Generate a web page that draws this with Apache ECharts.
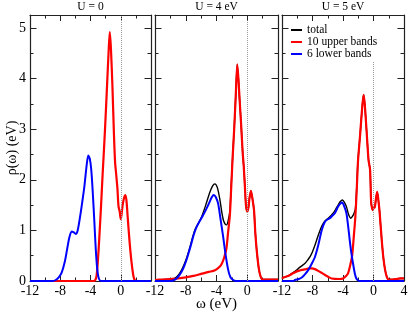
<!DOCTYPE html>
<html>
<head>
<meta charset="utf-8">
<script src="https://cdn.jsdelivr.net/npm/echarts@6/dist/echarts.min.js"></script>
<style>
html,body{margin:0;padding:0;background:#fff}
#wrap{position:relative;width:409px;height:313px}
.p{position:absolute;left:0;top:0;width:409px;height:313px}
</style>
</head>
<body>
<div id="wrap"><div class="p" id="p0"></div><div class="p" id="p1"></div><div class="p" id="p2"></div></div>
<script>
// ---------- data (x in eV, y = rho) ----------
const panelTitles = ['U = 0', 'U = 4 eV', 'U = 5 eV'];
const legendNames = ['total', '10 upper bands', '6 lower bands'];
const xLabel = 'ω (eV)';
const yLabel = 'ρ(ω) (eV)';

const u0Upper = [[-12,0],[-3.6,0],[-3.4,0.01],[-3.2,0.1],[-3.0,0.45],[-2.8,0.95],[-2.6,1.5],[-2.4,2.1],[-2.2,2.65],[-2.0,3.25],[-1.8,3.9],[-1.6,4.55],[-1.45,4.92],[-1.3,4.6],[-1.1,3.85],[-0.9,2.9],[-0.75,2.35],[-0.6,2.1],[-0.45,1.85],[-0.3,1.48],[-0.15,1.38],[0.0,1.22],[0.1,1.3],[0.25,1.5],[0.45,1.65],[0.6,1.7],[0.75,1.6],[0.9,1.3],[1.1,0.9],[1.3,0.55],[1.5,0.28],[1.7,0.08],[1.9,0.01],[2.2,0],[4,0]];
const u0Lower = [[-12,0],[-9.0,0],[-8.6,0.02],[-8.2,0.07],[-7.8,0.17],[-7.4,0.38],[-7.1,0.62],[-6.8,0.86],[-6.5,0.98],[-6.2,0.96],[-5.95,0.93],[-5.7,1.0],[-5.4,1.25],[-5.1,1.55],[-4.8,1.88],[-4.5,2.3],[-4.3,2.48],[-4.1,2.42],[-3.9,2.2],[-3.7,1.75],[-3.5,1.2],[-3.3,0.62],[-3.1,0.22],[-2.9,0.05],[-2.6,0],[4,0]];

const u4Total = [[-12,0.02],[-10,0.04],[-9.5,0.05],[-9.2,0.08],[-8.8,0.15],[-8.37,0.27],[-7.9,0.45],[-7.49,0.65],[-7.15,0.84],[-6.84,1.0],[-6.4,1.13],[-5.96,1.26],[-5.4,1.5],[-4.88,1.75],[-4.5,1.88],[-4.22,1.92],[-3.9,1.85],[-3.57,1.62],[-3.3,1.35],[-3.1,1.2],[-2.85,1.12],[-2.69,1.11],[-2.5,1.18],[-2.26,1.38],[-2.1,1.85],[-1.9,2.45],[-1.7,3.0],[-1.5,3.65],[-1.3,4.28],[-1.15,4.0],[-1.0,3.6],[-0.8,3.1],[-0.6,2.55],[-0.45,2.25],[-0.3,1.85],[-0.17,1.5],[0.0,1.37],[0.15,1.45],[0.3,1.65],[0.48,1.78],[0.65,1.65],[0.88,1.4],[1.05,0.95],[1.23,0.61],[1.5,0.25],[1.75,0.08],[2.0,0.03],[3,0.03],[4,0.03]];
const u4Upper = [[-12,0.02],[-11,0.03],[-10,0.04],[-9,0.05],[-8,0.07],[-7,0.1],[-6,0.14],[-5,0.18],[-4.4,0.2],[-4,0.23],[-3.6,0.28],[-3.35,0.33],[-3.1,0.42],[-2.9,0.52],[-2.7,0.65],[-2.5,0.95],[-2.26,1.3],[-2.1,1.8],[-1.9,2.45],[-1.7,3.0],[-1.5,3.65],[-1.3,4.28],[-1.15,4.0],[-1.0,3.6],[-0.8,3.1],[-0.6,2.55],[-0.45,2.25],[-0.3,1.85],[-0.17,1.5],[0.0,1.37],[0.15,1.45],[0.3,1.65],[0.48,1.78],[0.65,1.65],[0.88,1.4],[1.05,0.95],[1.23,0.61],[1.5,0.25],[1.75,0.08],[2.0,0.03],[3,0.03],[4,0.03]];
const u4Lower = [[-12,0],[-10,0],[-9.67,0.01],[-9.2,0.05],[-8.8,0.12],[-8.35,0.24],[-7.92,0.41],[-7.6,0.57],[-7.27,0.74],[-6.95,0.92],[-6.61,1.06],[-6.2,1.18],[-5.75,1.3],[-5.3,1.43],[-4.88,1.57],[-4.6,1.66],[-4.35,1.7],[-4.1,1.66],[-3.79,1.53],[-3.5,1.25],[-3.14,0.88],[-2.8,0.5],[-2.48,0.22],[-2.2,0.08],[-1.83,0.02],[-1.5,0],[4,0]];

const u5Total = [[-12,0.05],[-11.8,0.07],[-11.2,0.1],[-10.7,0.15],[-10.2,0.2],[-9.84,0.25],[-9.4,0.3],[-8.97,0.35],[-8.6,0.42],[-8.32,0.48],[-8.0,0.58],[-7.67,0.71],[-7.3,0.88],[-7.02,1.0],[-6.7,1.11],[-6.46,1.17],[-6.2,1.21],[-5.94,1.24],[-5.6,1.29],[-5.29,1.34],[-4.95,1.42],[-4.64,1.5],[-4.35,1.57],[-4.07,1.6],[-3.8,1.55],[-3.55,1.47],[-3.3,1.33],[-3.1,1.26],[-2.99,1.24],[-2.8,1.27],[-2.6,1.32],[-2.38,1.42],[-2.2,1.85],[-2.04,2.37],[-1.75,2.9],[-1.5,3.4],[-1.3,3.68],[-1.15,3.5],[-0.9,2.95],[-0.65,2.39],[-0.45,2.2],[-0.3,1.54],[-0.09,1.4],[0.04,1.47],[0.15,1.45],[0.3,1.6],[0.48,1.76],[0.62,1.62],[0.78,1.4],[1.08,0.81],[1.3,0.45],[1.52,0.22],[1.75,0.08],[1.95,0.03],[2.5,0.03],[3.0,0.04],[3.5,0.05],[4,0.05]];
const u5Upper = [[-12,0.05],[-11.8,0.07],[-11.2,0.1],[-10.7,0.14],[-10.2,0.18],[-9.84,0.2],[-9.4,0.22],[-8.97,0.23],[-8.5,0.25],[-8.1,0.25],[-7.6,0.23],[-7.24,0.2],[-6.8,0.16],[-6.37,0.12],[-5.9,0.08],[-5.5,0.05],[-4.5,0.04],[-3.99,0.05],[-3.6,0.1],[-3.34,0.15],[-3.1,0.28],[-2.82,0.48],[-2.6,0.85],[-2.38,1.27],[-2.2,1.8],[-2.04,2.35],[-1.75,2.9],[-1.5,3.4],[-1.3,3.68],[-1.15,3.5],[-0.9,2.95],[-0.65,2.39],[-0.45,2.2],[-0.3,1.54],[-0.09,1.4],[0.04,1.47],[0.15,1.45],[0.3,1.6],[0.48,1.76],[0.62,1.62],[0.78,1.4],[1.08,0.81],[1.3,0.45],[1.52,0.22],[1.75,0.08],[1.95,0.03],[2.5,0.03],[3.0,0.04],[3.5,0.05],[4,0.05]];
const u5Lower = [[-12,0],[-10.5,0],[-10.3,0.02],[-9.8,0.04],[-9.4,0.07],[-9.0,0.13],[-8.54,0.22],[-8.1,0.34],[-7.67,0.48],[-7.24,0.71],[-6.8,1.0],[-6.37,1.17],[-6.0,1.22],[-5.72,1.24],[-5.4,1.29],[-5.07,1.34],[-4.64,1.47],[-4.35,1.53],[-4.12,1.55],[-3.85,1.48],[-3.55,1.34],[-3.3,1.05],[-3.12,0.81],[-2.9,0.55],[-2.69,0.35],[-2.45,0.15],[-2.25,0.05],[-2.0,0.01],[-1.8,0],[4,0]];

const panelData = [
  {total: null,    upper: u0Upper, lower: u0Lower},
  {total: u4Total, upper: u4Upper, lower: u4Lower},
  {total: u5Total, upper: u5Upper, lower: u5Lower}
];

// ---------- layout / style ----------
const FONT = 'Liberation Serif';
const AX = '#222';
const layout = [
  {left: 30, width: 121, zeroTop: 5.25},
  {left: 155, width: 123, zeroTop: 5.15},
  {left: 282, width: 122, zeroTop: 4.33}
];
const GTOP = 15, GH = 266, YMAX = 5.257;
const colors = {total: '#000000', upper: '#ff0000', lower: '#0000ff'};

function mkX(pos, extra) {
  return Object.assign({
    type: 'value', min: -12, max: 4, interval: 4, position: pos,
    axisLine: {show: true, onZero: false, lineStyle: {color: AX, width: 1.2}},
    axisTick: {show: true, inside: true, length: 6, lineStyle: {color: AX, width: 1}},
    minorTick: {show: true, splitNumber: 2, length: 3.5, lineStyle: {color: AX, width: 1}},
    splitLine: {show: false}, minorSplitLine: {show: false},
    axisLabel: {show: false}
  }, extra || {});
}
function mkY(pos, iv, extra) {
  return Object.assign({
    type: 'value', min: 0, max: YMAX, interval: iv, position: pos,
    axisLine: {show: iv === 1, onZero: false, lineStyle: {color: AX, width: 1.2}},
    axisTick: {show: true, inside: true, length: iv === 1 ? 6.5 : 3.5, lineStyle: {color: AX, width: 1}},
    axisLabel: {show: false},
    splitLine: {show: false}, minorSplitLine: {show: false}
  }, extra || {});
}

layout.forEach((p, i) => {
  const xExtra = {
    axisLabel: {show: true, fontFamily: FONT, fontSize: 14, color: '#000', margin: 3, showMaxLabel: i === 2}
  };
  if (i === 1) {
    Object.assign(xExtra, {
      name: xLabel, nameLocation: 'middle', nameGap: 16, nameMoveOverlap: false,
      nameTextStyle: {fontFamily: FONT, fontSize: 15, color: '#000'}
    });
  }
  const yExtra = {};
  if (i === 0) {
    Object.assign(yExtra, {
      axisLabel: {show: true, fontFamily: FONT, fontSize: 14, color: '#000', margin: 4, showMaxLabel: false},
      name: yLabel, nameLocation: 'middle', nameGap: 11, nameRotate: 90, nameMoveOverlap: false,
      nameTextStyle: {fontFamily: FONT, fontSize: 14, color: '#000'}
    });
  }

  const d = panelData[i];
  const mk = (key, name, width) => ({
    type: 'line', name, data: d[key],
    showSymbol: false, symbol: 'none', smooth: 0.25, clip: true,
    color: colors[key], lineStyle: {color: colors[key], width}
  });
  const series = [];
  if (d.total) series.push(mk('total', legendNames[0], 1.4));
  const up = mk('upper', legendNames[1], 2.2);
  up.markLine = {
    silent: true, symbol: ['none', 'none'], label: {show: false},
    lineStyle: {type: 'dotted', color: '#9a9a9a', width: 1},
    data: [[{coord: [0, 0]}, {coord: [0, p.zeroTop]}]]
  };
  series.push(up);
  series.push(mk('lower', legendNames[2], 2));

  const option = {
    animation: false,
    backgroundColor: 'transparent',
    grid: {left: p.left, top: GTOP, width: p.width, height: GH, show: false, containLabel: false, outerBoundsMode: 'none'},
    xAxis: [mkX('bottom', xExtra), mkX('top')],
    yAxis: [mkY('left', 1, yExtra), mkY('left', 0.5), mkY('right', 1), mkY('right', 0.5)],
    series,
    graphic: [{
      type: 'text', x: p.left + p.width / 2, y: 7,
      style: {text: panelTitles[i], font: '11.5px "Liberation Serif"', fill: '#000', textAlign: 'center', textVerticalAlign: 'middle'}
    }]
  };
  if (i === 2) {
    option.legend = {
      data: legendNames, orient: 'vertical', left: 291, top: 24, padding: 0,
      itemWidth: 11, itemHeight: 2, itemGap: 0, icon: 'rect',
      textStyle: {fontFamily: FONT, fontSize: 11.5, lineHeight: 12, color: '#000'},
      selectedMode: false
    };
  }
  const chart = echarts.init(document.getElementById('p' + i));
  chart.setOption(option);
});
</script>
</body>
</html>
